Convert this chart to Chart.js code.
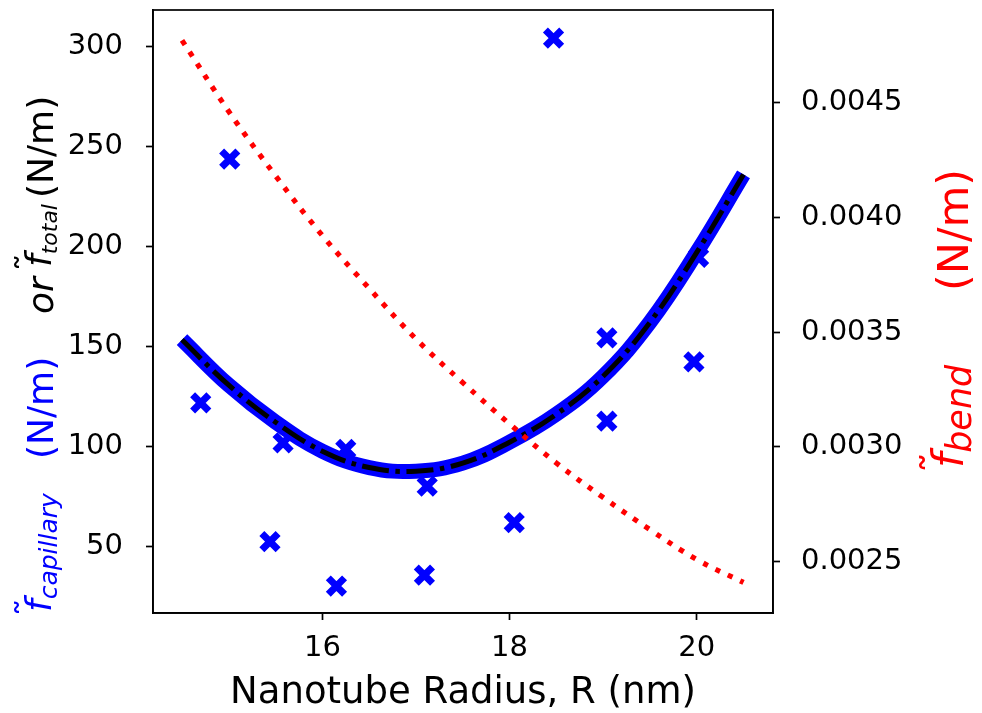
<!DOCTYPE html>
<html>
<head>
<meta charset="utf-8">
<script src="https://cdn.jsdelivr.net/npm/chart.js@4/dist/chart.umd.min.js"></script>
<style>
  html, body { margin: 0; padding: 0; background: #fff; }
  #wrap { width: 982px; height: 713px; position: relative; }
</style>
</head>
<body>
<div id="wrap"><canvas id="chart"></canvas></div>
<script>
/* ── Data ── */
const radiusPts    = [14.70, 15.01, 15.44, 15.58, 16.25, 16.15, 17.12, 17.09, 18.05, 18.47, 19.04, 19.04, 19.97, 20.02];
const capillaryPts = [121.7, 243.7, 52.2, 101.7, 98.4, 30.0, 80.0, 35.5, 61.7, 304.2, 154.2, 112.5, 142.2, 194.5];

const fitRadius = [14.5, 15.0, 15.5, 16.0, 16.5, 17.0, 17.5, 18.0, 18.5, 19.0, 19.5, 20.0, 20.5];
const fitTotal  = [153.3, 130.5, 112.0, 97.5, 89.3, 87.5, 91.5, 102.0, 116.0, 135.0, 162.0, 197.0, 236.0];
const bendVals  = [0.00477, 0.00446, 0.00418, 0.00392, 0.00369, 0.00347, 0.00328, 0.00310, 0.00293, 0.00278, 0.00264, 0.00251, 0.00241];

const xTicks     = [16, 18, 20];
const leftTicks  = [50, 100, 150, 200, 250, 300];
const rightTicks = [0.0025, 0.0030, 0.0035, 0.0040, 0.0045];

const BLUE = '#0000ff', RED = '#ff0000', INK = '#000000';
const FONT = "'DejaVu Sans', sans-serif";

function pts(xs, ys){ return xs.map((x, i) => ({ x, y: ys[i] })); }

/* ── rotated (reading upward) rich text ── */
function drawUp(ctx, baseX, startY, parts){
  ctx.save();
  ctx.translate(baseX, startY);
  ctx.rotate(-Math.PI / 2);
  ctx.textBaseline = 'alphabetic';
  ctx.textAlign = 'left';
  let cx = 0, last = 0;
  parts.forEach(p => {
    ctx.font = p.font;
    ctx.fillStyle = p.color;
    if (p.overlay){
      ctx.fillText(p.text, last + (p.dx || 0), p.dy || 0);
      return;
    }
    last = cx;
    ctx.fillText(p.text, cx + (p.dx || 0), p.dy || 0);
    cx += ctx.measureText(p.text).width + (p.dx || 0);
  });
  ctx.restore();
}

function tildeF(size, sub, subSize, color, subDy){
  return [
    { text: 'f', font: `italic ${size}px ${FONT}`, color },
    { text: '\u02DC', font: `${size}px ${FONT}`, color, overlay: true, dx: -size * 0.12, dy: -size * 0.26 },
    { text: sub, font: `italic ${subSize}px ${FONT}`, color, dy: subDy }
  ];
}

const framePlugin = {
  id: 'frame',
  afterDraw(chart){
    const { ctx, chartArea: a } = chart;
    ctx.save();
    ctx.strokeStyle = INK;
    ctx.lineWidth = 1.7;
    ctx.strokeRect(a.left, a.top, a.right - a.left, a.bottom - a.top);
    ctx.restore();

    /* left axis label: blue capillary part, black total part */
    const L = 36;
    drawUp(ctx, 51, 612, tildeF(L, 'capillary', 25, BLUE, 6));
    drawUp(ctx, 53, 459, [{ text: '(N/m)', font: `${L}px ${FONT}`, color: BLUE }]);
    drawUp(ctx, 53, 314, [{ text: 'or', font: `italic ${L}px ${FONT}`, color: INK }]);
    drawUp(ctx, 51, 267, tildeF(L, 'total', 22, INK, 6));
    drawUp(ctx, 53, 198, [{ text: '(N/m)', font: `${L}px ${FONT}`, color: INK }]);

    /* right axis label */
    const R = 43;
    drawUp(ctx, 963, 468, tildeF(R, 'bend', 35, RED, 8));
    drawUp(ctx, 968, 291, [{ text: '(N/m)', font: `${R}px ${FONT}`, color: RED }]);
  }
};

const tickGrid = { drawOnChartArea: false, drawTicks: true, tickLength: 7, tickWidth: 1.7, tickColor: INK };
const axisBorder = { display: true, color: INK, width: 1.7 };
const vTickFont = { family: FONT, size: 29, lineHeight: 0.5 };

function noPadV(s, w){ s.width = w; s.paddingTop = 0; s.paddingBottom = 0; }

new Chart(document.getElementById('chart'), {
  type: 'scatter',
  data: {
    datasets: [
      {
        label: 'f_bend',
        type: 'line',
        data: pts(fitRadius, bendVals),
        yAxisID: 'y2',
        borderColor: RED,
        borderWidth: 5.2,
        borderDash: [5.2, 8.6],
        borderCapStyle: 'butt',
        tension: 0.4,
        pointRadius: 0,
        fill: false,
        order: 0
      },
      {
        label: 'fit dash',
        type: 'line',
        data: pts(fitRadius, fitTotal),
        yAxisID: 'y',
        borderColor: INK,
        borderWidth: 5,
        borderDash: [26.7, 6.7, 4.5, 6.7],
        borderCapStyle: 'butt',
        tension: 0.4,
        pointRadius: 0,
        fill: false,
        order: 1
      },
      {
        label: 'fit band',
        type: 'line',
        data: pts(fitRadius, fitTotal),
        yAxisID: 'y',
        borderColor: BLUE,
        borderWidth: 15,
        borderCapStyle: 'butt',
        borderJoinStyle: 'round',
        tension: 0.4,
        pointRadius: 0,
        fill: false,
        order: 2
      },
      {
        label: 'f_capillary',
        data: pts(radiusPts, capillaryPts),
        yAxisID: 'y',
        showLine: false,
        pointStyle: 'crossRot',
        pointRadius: 11.5,
        pointBorderWidth: 7,
        pointBorderColor: BLUE,
        pointBackgroundColor: BLUE,
        order: 3
      }
    ]
  },
  options: {
    responsive: true,
    maintainAspectRatio: false,
    animation: false,
    layout: { autoPadding: false, padding: { top: 10, left: 0, right: 0, bottom: 0 } },
    plugins: { legend: { display: false }, tooltip: { enabled: false } },
    scales: {
      x: {
        type: 'linear', position: 'bottom', min: 14.19, max: 20.815,
        afterBuildTicks: s => { s.ticks = xTicks.map(v => ({ value: v })); },
        afterFit: s => { s.height = 100; s.paddingLeft = 0; s.paddingRight = 0; },
        grid: tickGrid, border: axisBorder,
        ticks: { color: INK, font: { family: FONT, size: 29 }, padding: 11, maxRotation: 0 },
        title: {
          display: true, text: 'Nanotube Radius, R (nm)', color: INK,
          font: { family: FONT, size: 37, lineHeight: 1 }, padding: { top: 0, bottom: 1 }
        }
      },
      y: {
        type: 'linear', position: 'left', min: 16.5, max: 318.3,
        afterBuildTicks: s => { s.ticks = leftTicks.map(v => ({ value: v })); },
        afterFit: s => noPadV(s, 153),
        grid: tickGrid, border: axisBorder,
        ticks: { color: INK, font: vTickFont, padding: 23 }
      },
      y2: {
        type: 'linear', position: 'right', min: 0.002277, max: 0.004902,
        afterBuildTicks: s => { s.ticks = rightTicks.map(v => ({ value: v })); },
        afterFit: s => noPadV(s, 209),
        grid: tickGrid, border: axisBorder,
        ticks: { color: INK, font: vTickFont, padding: 21, callback: v => v.toFixed(4) }
      }
    }
  },
  plugins: [framePlugin]
});
</script>
</body>
</html>
